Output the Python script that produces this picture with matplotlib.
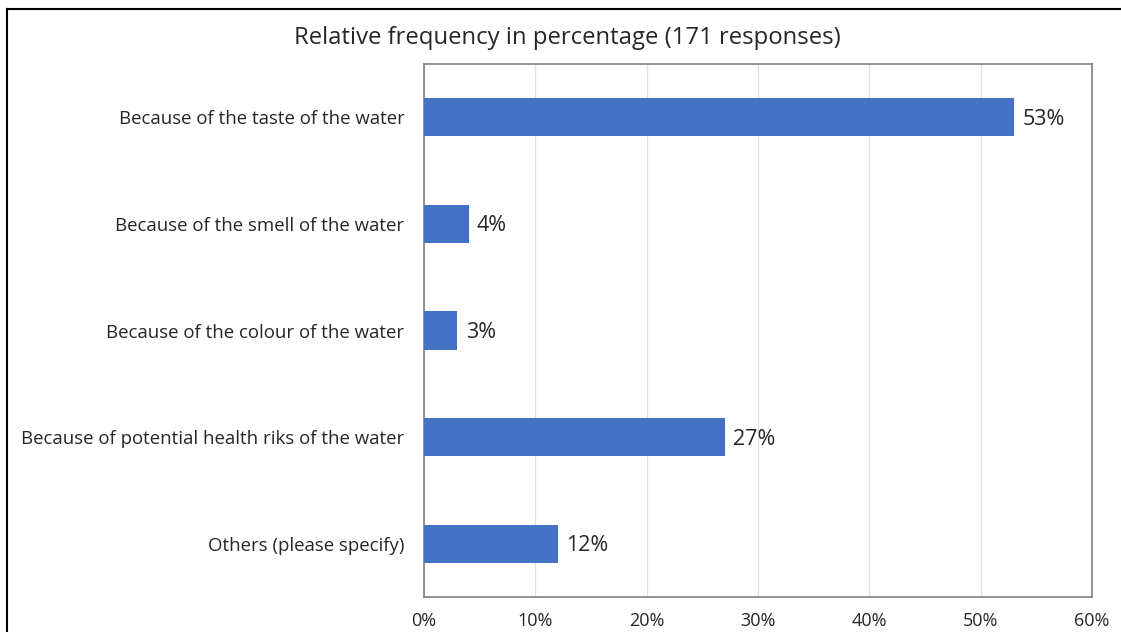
import matplotlib
matplotlib.use("Agg")
import matplotlib.pyplot as plt
from matplotlib.lines import Line2D
from matplotlib.ticker import FuncFormatter

categories = [
    "Because of the taste of the water",
    "Because of the smell of the water",
    "Because of the colour of the water",
    "Because of potential health riks of the water",
    "Others (please specify)",
]
values = [53, 4, 3, 27, 12]
xticks = [0, 10, 20, 30, 40, 50, 60]
title = "Relative frequency in percentage (171 responses)"

plt.rcParams['font.family'] = ['Open Sans', 'DejaVu Sans']

fig = plt.figure(figsize=(11.21, 6.32), dpi=100)
ax = fig.add_axes([424/1121, 1-597/632, (1092-424)/1121, (597-64)/632])

y = list(range(len(categories)))
ax.barh(y, values, height=0.36, color="#4472C4", zorder=3)
ax.set_ylim(len(categories)-0.5, -0.5)
ax.set_xlim(0, 60)
ax.set_yticks(y)
ax.set_yticklabels(categories, fontsize=13.4, color="#262626")
ax.set_xticks(xticks)
ax.xaxis.set_major_formatter(FuncFormatter(lambda v, p: f"{int(v)}%"))
ax.tick_params(axis='x', length=0, pad=11, labelsize=13, labelcolor="#262626")
ax.tick_params(axis='y', length=0, pad=14)
ax.grid(axis='x', color="#E0E0E0", linewidth=0.9, zorder=0)
for s in ax.spines.values():
    s.set_color("#808080")
    s.set_linewidth(1.2)

for yi, v in zip(y, values):
    ax.annotate(f"{v}%", (v, yi), xytext=(6, -1.5), textcoords="offset points",
                va="center", ha="left", fontsize=15.5, color="#262626")

fig.text(567/1121, 1-38/632, title, ha="center", va="center", fontsize=17.2, color="#262626")

fig.add_artist(Line2D([7/1121, 1], [1-9/632, 1-9/632], color="black", linewidth=1.5, transform=fig.transFigure))
fig.add_artist(Line2D([7/1121, 7/1121], [0, 1-9/632], color="black", linewidth=1.5, transform=fig.transFigure))

fig.savefig("out.png", dpi=100)
